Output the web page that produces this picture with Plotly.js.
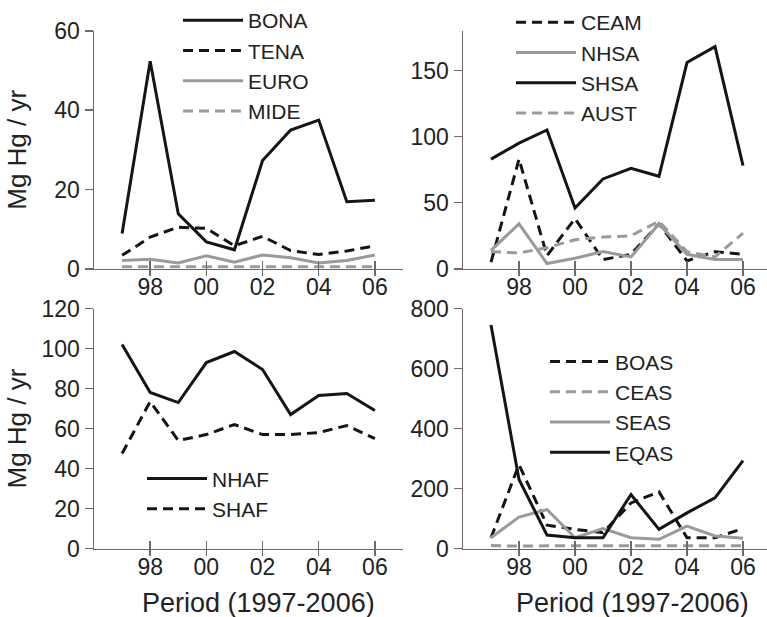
<!DOCTYPE html>
<html>
<head>
<meta charset="utf-8">
<script src="https://cdn.plot.ly/plotly-3.0.1.min.js"></script>
<style>html,body{margin:0;padding:0;background:#fff;}#chart{width:767px;height:617px;}</style>
</head>
<body>
<div id="chart"></div>
<script>
const years = [1997, 1998, 1999, 2000, 2001, 2002, 2003, 2004, 2005, 2006];
const tickYears = [1998, 2000, 2002, 2004, 2006];
const tickLabels = ['98', '00', '02', '04', '06'];
const xTitle = 'Period (1997-2006)';
const yTitle = 'Mg Hg / yr';

// Panel a (top-left)
const BONA = [8.9, 52.3, 13.9, 6.8, 4.8, 27.3, 35.0, 37.5, 16.9, 17.3];
const TENA = [3.4, 8.0, 10.5, 10.2, 5.8, 8.2, 4.6, 3.6, 4.5, 5.8];
const EURO = [2.1, 2.4, 1.5, 3.3, 1.7, 3.5, 2.8, 1.5, 2.1, 3.5];
const MIDE = [0.5, 0.5, 0.4, 0.5, 0.4, 0.5, 0.5, 0.4, 0.4, 0.5];
// Panel b (top-right)
const CEAM = [5, 83, 10, 38, 7, 11, 34, 6, 13, 11];
const NHSA = [14, 34, 4, 8, 13, 9, 34, 11, 7, 7];
const SHSA = [83, 95, 105, 46, 68, 76, 70, 156, 168, 78];
const AUST = [13, 12, 16, 22, 24, 25, 36, 13, 9, 27];
// Panel c (bottom-left)
const NHAF = [102, 78, 73, 93, 98.5, 89.5, 67, 76.5, 77.5, 69];
const SHAF = [47.5, 73.5, 54, 57, 62, 57, 57, 58, 61.5, 55];
// Panel d (bottom-right)
const BOAS = [36, 280, 78, 64, 53, 152, 189, 36, 36, 67];
const CEAS = [10, 8, 9, 9, 9, 9, 9, 9, 9, 9];
const SEAS = [36, 105, 130, 36, 67, 36, 31, 75, 42, 34];
const EQAS = [745, 230, 45, 36, 36, 180, 64, 119, 169, 293];

const BLACK = '#151515';
const GREY = '#9a9a9a';
const AXC = '#6a6a6a';
const TXT = '#222';
const FONT = 'Liberation Sans, Arial, sans-serif';

function tr(name, y, color, dash, xa, ya, leg) {
  return {
    type: 'scatter', mode: 'lines', name: name, x: years, y: y,
    xaxis: xa, yaxis: ya, legend: leg,
    line: {color: color, width: 3, dash: dash ? '10px,6px' : 'solid'}
  };
}
function tickHolder(xa, ya) {
  return {type: 'scatter', mode: 'lines', x: [], y: [], xaxis: xa, yaxis: ya,
          showlegend: false, hoverinfo: 'skip'};
}

const data = [
  tr('BONA', BONA, BLACK, false, 'x', 'y', 'legend'),
  tr('TENA', TENA, BLACK, true, 'x', 'y', 'legend'),
  tr('EURO', EURO, GREY, false, 'x', 'y', 'legend'),
  tr('MIDE', MIDE, GREY, true, 'x', 'y', 'legend'),
  tr('CEAM', CEAM, BLACK, true, 'x2', 'y2', 'legend2'),
  tr('NHSA', NHSA, GREY, false, 'x2', 'y2', 'legend2'),
  tr('SHSA', SHSA, BLACK, false, 'x2', 'y2', 'legend2'),
  tr('AUST', AUST, GREY, true, 'x2', 'y2', 'legend2'),
  tr('NHAF', NHAF, BLACK, false, 'x3', 'y3', 'legend3'),
  tr('SHAF', SHAF, BLACK, true, 'x3', 'y3', 'legend3'),
  tr('BOAS', BOAS, BLACK, true, 'x4', 'y4', 'legend4'),
  tr('CEAS', CEAS, GREY, true, 'x4', 'y4', 'legend4'),
  tr('SEAS', SEAS, GREY, false, 'x4', 'y4', 'legend4'),
  tr('EQAS', EQAS, BLACK, false, 'x4', 'y4', 'legend4'),
  tickHolder('x5', 'y'), tickHolder('x6', 'y2'), tickHolder('x7', 'y3'), tickHolder('x8', 'y4')
];

const W = 767, H = 617;
const colL = [94 / W, 403 / W];
const colR = [463 / W, 1];
const rowT = [1 - 266 / H, 1 - 26 / H];
const rowB = [1 - 548 / H, 1 - 306 / H];
const xRangeL = [1996, 2007];
const xRangeR = [1996, 1996 + (W - 463) / 28];

function xax(domain, range, anchor) {
  return {
    domain: domain, range: range, anchor: anchor,
    tickmode: 'array', tickvals: tickYears, ticktext: tickLabels,
    ticks: 'outside', ticklen: 6, tickwidth: 1.5, tickcolor: AXC,
    ticklabelstandoff: -9,
    showline: true, linecolor: AXC, linewidth: 1.5,
    showgrid: false, zeroline: false,
    tickfont: {family: FONT, size: 23, color: TXT}
  };
}
function xin(over, anchor, range) {
  return {
    overlaying: over, anchor: anchor, range: range,
    tickmode: 'array', tickvals: tickYears, ticktext: tickLabels,
    ticks: 'inside', ticklen: 8, tickwidth: 1.5, tickcolor: AXC,
    showticklabels: false, showline: false, showgrid: false, zeroline: false
  };
}
function yax(domain, range, dtick, anchor, title, standoff) {
  const a = {
    domain: domain, range: range, anchor: anchor, dtick: dtick, tick0: 0,
    ticks: 'outside', ticklen: 8, tickwidth: 1.5, tickcolor: AXC,
    showline: true, linecolor: AXC, linewidth: 1.5,
    showgrid: false, zeroline: false,
    tickfont: {family: FONT, size: 23, color: TXT}
  };
  if (title) a.title = {text: title, font: {family: FONT, size: 26, color: TXT}, standoff: standoff};
  return a;
}
function leg(xpx, ypx) {
  return {
    x: xpx / W, y: 1 - ypx / H, xanchor: 'left', yanchor: 'top',
    bgcolor: 'rgba(0,0,0,0)', borderwidth: 0, itemwidth: 60,
    font: {family: FONT, size: 21, color: TXT}, traceorder: 'normal'
  };
}
function xTitleAnn(xref, yref, xv) {
  return {text: xTitle, xref: xref, yref: yref, x: xv, y: -0.227,
          xanchor: 'center', yanchor: 'middle', showarrow: false,
          font: {family: FONT, size: 27, color: TXT}};
}

const layout = {
  width: W, height: H,
  margin: {l: 0, r: 0, t: 0, b: 0},
  paper_bgcolor: '#fff', plot_bgcolor: '#fff',
  font: {family: FONT, color: TXT},
  showlegend: true,
  xaxis: xax(colL, xRangeL, 'y'),
  yaxis: yax(rowT, [0, 60], 20, 'x', yTitle, 20),
  xaxis2: xax(colR, xRangeR, 'y2'),
  yaxis2: yax(rowT, [0, 180], 50, 'x2'),
  xaxis3: xax(colL, xRangeL, 'y3'),
  yaxis3: yax(rowB, [0, 120], 20, 'x3', yTitle, 7),
  xaxis4: xax(colR, xRangeR, 'y4'),
  yaxis4: yax(rowB, [0, 800], 200, 'x4'),
  xaxis5: xin('x', 'y', xRangeL),
  xaxis6: xin('x2', 'y2', xRangeR),
  xaxis7: xin('x3', 'y3', xRangeL),
  xaxis8: xin('x4', 'y4', xRangeR),
  legend: leg(178, -5),
  legend2: leg(511, -3),
  legend3: leg(142, 457),
  legend4: leg(545, 339),
  annotations: [xTitleAnn('x3', 'y3 domain', 2001.85), xTitleAnn('x4', 'y4 domain', 2002.05)]
};

Plotly.newPlot('chart', data, layout, {staticPlot: true});
</script>
</body>
</html>
